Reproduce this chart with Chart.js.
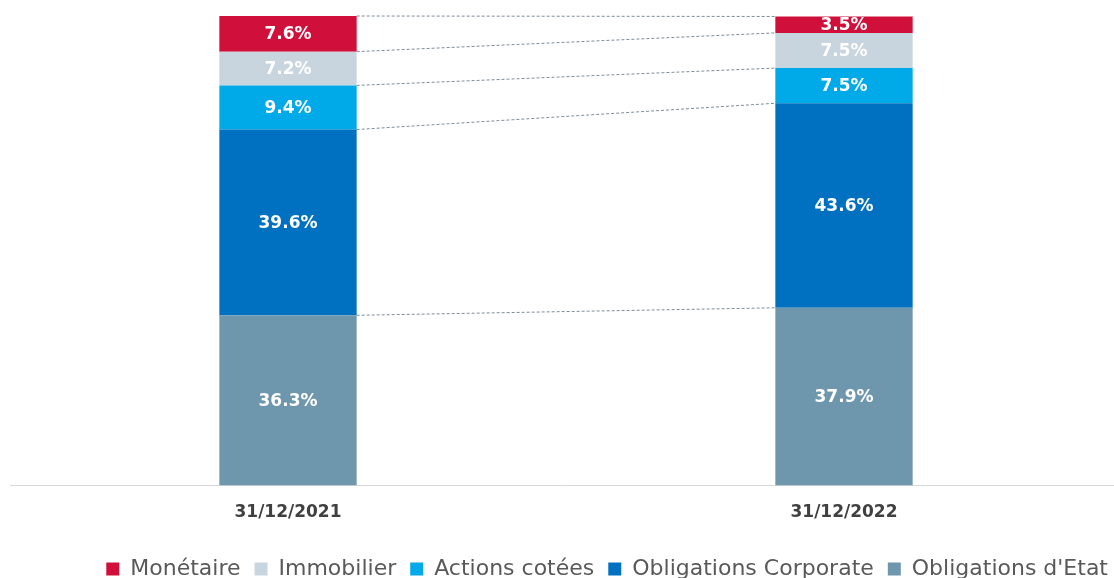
<!DOCTYPE html>
<html>
<head>
<meta charset="utf-8">
<script src="https://cdn.jsdelivr.net/npm/chart.js@4"></script>
<style>
  html, body { margin: 0; padding: 0; background: #fff; overflow: hidden; }
  #wrap { width: 1122px; height: 578px; }
</style>
</head>
<body>
<div id="wrap"><canvas id="chart"></canvas></div>
<script>
const categories = ["31/12/2021", "31/12/2022"];
// stacked from bottom to top
const seriesNames = ["Obligations d'Etat", "Obligations Corporate", "Actions cotées", "Immobilier", "Monétaire"];
const etat = [36.3, 37.9];
const corporate = [39.6, 43.6];
const actions = [9.4, 7.5];
const immobilier = [7.2, 7.5];
const monetaire = [7.6, 3.5];
const colors = ["#6e97ae", "#0070c0", "#00a9e8", "#c9d5de", "#d0103a"];

const seriesValues = [etat, corporate, actions, immobilier, monetaire];

// white % labels inside each segment
const barLabels = {
  id: "barLabels",
  afterDatasetsDraw(chart) {
    const ctx = chart.ctx;
    ctx.save();
    ctx.fillStyle = "#ffffff";
    ctx.font = "bold 17px 'DejaVu Sans'";
    ctx.textAlign = "center";
    ctx.textBaseline = "middle";
    chart.data.datasets.forEach((ds, i) => {
      chart.getDatasetMeta(i).data.forEach((bar, j) => {
        const mid = (bar.y + bar.base) / 2;
        ctx.fillText(ds.data[j].toFixed(1) + "%", bar.x, mid + 1);
      });
    });
    ctx.restore();
  }
};

// dotted series lines between the two bars
const seriesLines = {
  id: "seriesLines",
  beforeDatasetsDraw(chart) {
    const ctx = chart.ctx;
    ctx.save();
    ctx.strokeStyle = "#7d8c99";
    ctx.lineWidth = 1;
    ctx.setLineDash([3, 2]);
    chart.data.datasets.forEach((ds, i) => {
      const bars = chart.getDatasetMeta(i).data;
      const a = bars[0], b = bars[1];
      ctx.beginPath();
      ctx.moveTo(a.x + a.width / 2, a.y);
      ctx.lineTo(b.x - b.width / 2, b.y);
      ctx.stroke();
    });
    ctx.restore();
  }
};

// push the legend a bit lower, closer to the bottom edge
const legendShift = {
  id: "legendShift",
  afterLayout(chart) {
    chart.legend.top += 12;
    chart.legend.bottom += 12;
  }
};

new Chart(document.getElementById("chart"), {
  type: "bar",
  data: {
    labels: categories,
    datasets: seriesNames.map((name, i) => ({
      label: name,
      data: seriesValues[i],
      backgroundColor: colors[i],
      borderWidth: 0,
      barPercentage: 0.494,
      categoryPercentage: 0.5
    }))
  },
  options: {
    responsive: true,
    maintainAspectRatio: false,
    animation: false,
    layout: { padding: { top: 16, left: 10, right: 0, bottom: 0 } },
    scales: {
      x: {
        stacked: true,
        grid: { display: false, drawTicks: false },
        border: { color: "#d9d9d9", width: 1 },
        afterFit(scale) { scale.height -= 8; },
        ticks: {
          color: "#404040",
          padding: 17,
          font: { family: "'DejaVu Sans'", size: 17, weight: "bold" }
        }
      },
      y: {
        stacked: true,
        display: false,
        min: 0,
        max: 100.1
      }
    },
    plugins: {
      tooltip: { enabled: false },
      legend: {
        position: "bottom",
        align: "end",
        reverse: true,
        labels: {
          color: "#595959",
          boxWidth: 13,
          boxHeight: 13,
          padding: 14,
          font: { family: "'DejaVu Sans'", size: 22 }
        }
      }
    }
  },
  plugins: [seriesLines, barLabels, legendShift]
});
</script>
</body>
</html>
